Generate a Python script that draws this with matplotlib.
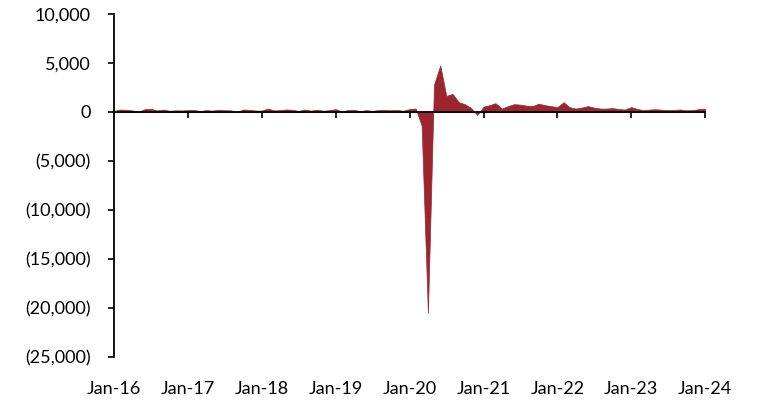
import matplotlib
matplotlib.use("Agg")
import matplotlib.pyplot as plt
import matplotlib.dates as mdates
import matplotlib.ticker as mticker
import pandas as pd

# monthly change in payrolls, thousands (Jan-16 .. Jan-24)
months = pd.date_range("2016-01-01", "2024-01-01", freq="MS")
change = [
    120, 250, 230, 160, 40, 290, 330, 160, 250, 130, 170, 160,      # 2016
    200, 210, 100, 190, 140, 230, 180, 170, 20, 260, 220, 150,      # 2017
    150, 350, 170, 190, 260, 230, 110, 260, 140, 240, 130, 190,     # 2018
    290, 40, 200, 230, 90, 190, 120, 200, 210, 180, 210, 130,       # 2019
    300, 350, -1400, -20500, 2800, 4750, 1650, 1850, 1000, 800, 400, -300,  # 2020
    550, 700, 900, 350, 600, 800, 750, 650, 600, 850, 700, 600,     # 2021
    500, 1000, 500, 350, 450, 600, 450, 350, 350, 400, 300, 250,    # 2022
    500, 300, 200, 250, 280, 240, 200, 220, 260, 170, 200, 290,     # 2023
    350,                                                            # 2024
]
yticks = [10000, 5000, 0, -5000, -10000, -15000, -20000, -25000]
xticks = pd.date_range("2016-01-01", "2024-01-01", freq="YS")

plt.rcParams['font.family'] = ['Lato', 'DejaVu Sans']

fig = plt.figure(figsize=(7.64, 4.01), dpi=100)
ax = fig.add_axes([114/764, 1 - 357/401, 591/764, 343/401])

ax.fill_between(months, 0, change, color='#9b2630', linewidth=0.5, edgecolor='#9b2630')

ax.set_xlim(months[0], months[-1])
ax.set_ylim(-25000, 10000)
ax.set_yticks(yticks)

def paren(v, pos):
    if v < 0:
        return f"({-v:,.0f})"
    return f"{v:,.0f}"

ax.yaxis.set_major_formatter(mticker.FuncFormatter(paren))
ax.tick_params(axis='y', direction='out', length=4, width=1.2, pad=13, labelsize=13, colors='black')

for s in ['top', 'right']:
    ax.spines[s].set_visible(False)
ax.spines['left'].set_linewidth(1.3)
ax.spines['bottom'].set_position(('data', 0))
ax.spines['bottom'].set_linewidth(1.3)
ax.spines['bottom'].set_zorder(3)

ax.set_xticks(xticks)
ax.tick_params(axis='x', direction='out', length=4, width=1.2, labelbottom=False)

sec = ax.secondary_xaxis('bottom')
sec.set_xticks(xticks)
sec.xaxis.set_major_formatter(mdates.DateFormatter('%b-%y'))
sec.tick_params(axis='x', length=0, pad=17, labelsize=13)
sec.spines['bottom'].set_visible(False)

fig.savefig("out.png", dpi=100)
